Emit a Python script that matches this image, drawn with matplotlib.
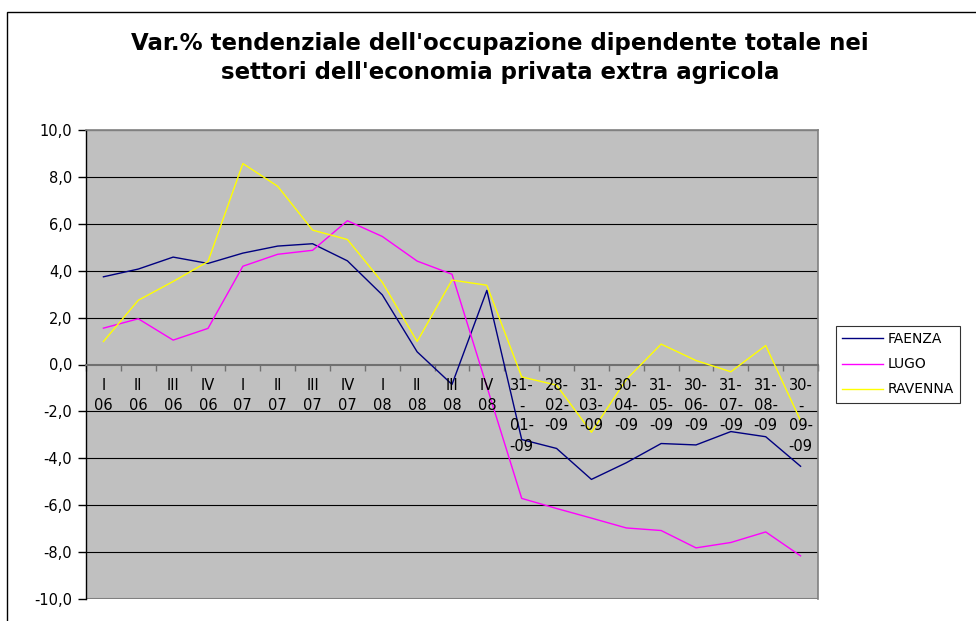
"""
Var.% tendenziale dell'occupazione dipendente - Faenza, Lugo, Ravenna.
"""
import matplotlib
matplotlib.use("Agg")
import matplotlib.pyplot as plt
from matplotlib.patches import Rectangle
from matplotlib.ticker import FixedLocator, FuncFormatter

plt.rcParams['font.family'] = ['DejaVu Sans']

categories = [
    "I\n06", "II\n06", "III\n06", "IV\n06",
    "I\n07", "II\n07", "III\n07", "IV\n07",
    "I\n08", "II\n08", "III\n08", "IV\n08",
    "31-\n-\n01-\n-09", "28-\n02-\n-09", "31-\n03-\n-09", "30-\n04-\n-09",
    "31-\n05-\n-09", "30-\n06-\n-09", "31-\n07-\n-09", "31-\n08-\n-09",
    "30-\n-\n09-\n-09",
]

faenza = [3.74, 4.07, 4.58, 4.31, 4.75, 5.05, 5.15, 4.42, 2.97, 0.54, -0.85,
          3.16, -3.20, -3.58, -4.90, -4.19, -3.37, -3.43, -2.86, -3.08, -4.34]
lugo = [1.55, 1.95, 1.04, 1.54, 4.19, 4.70, 4.87, 6.13, 5.46, 4.41, 3.85,
        -0.94, -5.71, -6.14, -6.55, -6.97, -7.08, -7.82, -7.59, -7.14, -8.16]
ravenna = [0.98, 2.74, 3.54, 4.39, 8.57, 7.60, 5.73, 5.33, 3.51, 0.98, 3.60,
           3.38, -0.53, -0.88, -2.89, -0.64, 0.87, 0.17, -0.31, 0.81, -2.39]

series = [("FAENZA", faenza, "#000080"),
          ("LUGO", lugo, "#FF00FF"),
          ("RAVENNA", ravenna, "#FFFF00")]

W, H = 976, 621
fig = plt.figure(figsize=(W / 100, H / 100), dpi=100)

# outer chart frame (right/bottom run off the picture)
fig.patches.append(Rectangle((7.3 / W, -0.1), 1.2, 1 - 12 / H + 0.1,
                             transform=fig.transFigure, fill=False,
                             edgecolor='black', linewidth=1.0))

ax = fig.add_axes([86 / W, 1 - 599 / H, 732 / W, 469 / H])
ax.set_facecolor('#C0C0C0')

x = list(range(len(categories)))
for name, vals, col in series:
    ax.plot(x, vals, color=col, linewidth=1.0, label=name, zorder=3)

ax.set_xlim(-0.5, len(categories) - 0.5)
ax.set_ylim(-10, 10)

# horizontal gridlines
for v in range(-8, 10, 2):
    if v != 0:
        ax.axhline(v, color='black', linewidth=0.8, zorder=1)
ax.axhline(10, color='#808080', linewidth=1.0, zorder=1)

# plot area border
for side in ('top', 'right'):
    ax.spines[side].set_color('#808080')
    ax.spines[side].set_linewidth(1.2)
ax.spines['left'].set_color('black')
ax.spines['left'].set_linewidth(1.0)
ax.spines['bottom'].set_position(('data', 0))
ax.spines['bottom'].set_color('#707070')
ax.spines['bottom'].set_linewidth(1.5)
ax.axhline(-10, color='#808080', linewidth=1.5, zorder=1)

ax.yaxis.set_major_locator(FixedLocator(range(-10, 12, 2)))
ax.yaxis.set_major_formatter(FuncFormatter(lambda v, p: f"{v:.1f}".replace('.', ',')))
ax.tick_params(axis='y', direction='out', length=6, width=1.0, pad=4,
               labelsize=10.5, color='black')

ax.xaxis.set_major_locator(FixedLocator([i + 0.5 for i in range(-1, len(categories))]))
ax.tick_params(axis='x', direction='out', length=4, width=1.0, color='#707070',
               labelbottom=False)

for i, lab in enumerate(categories):
    ax.annotate(lab, xy=(i, 0), xytext=(0, -10), textcoords='offset points',
                ha='center', va='top', fontsize=10.5, linespacing=1.42,
                zorder=4)

fig.text(500 / W, 1 - 58 / H,
         "Var.% tendenziale dell'occupazione dipendente totale nei\n"
         "settori dell'economia privata extra agricola",
         ha='center', va='center', fontsize=16.5, fontweight='bold',
         linespacing=1.32)

leg = fig.legend(loc='upper left', bbox_to_anchor=(836 / W, 1 - 326 / H),
                 bbox_transform=fig.transFigure, fontsize=10,
                 frameon=True, fancybox=False, handlelength=2.9,
                 handletextpad=0.35, labelspacing=0.8, borderpad=0.45,
                 borderaxespad=0)
leg.get_frame().set_edgecolor('black')
leg.get_frame().set_linewidth(0.8)

fig.savefig("out.png", dpi=100)
